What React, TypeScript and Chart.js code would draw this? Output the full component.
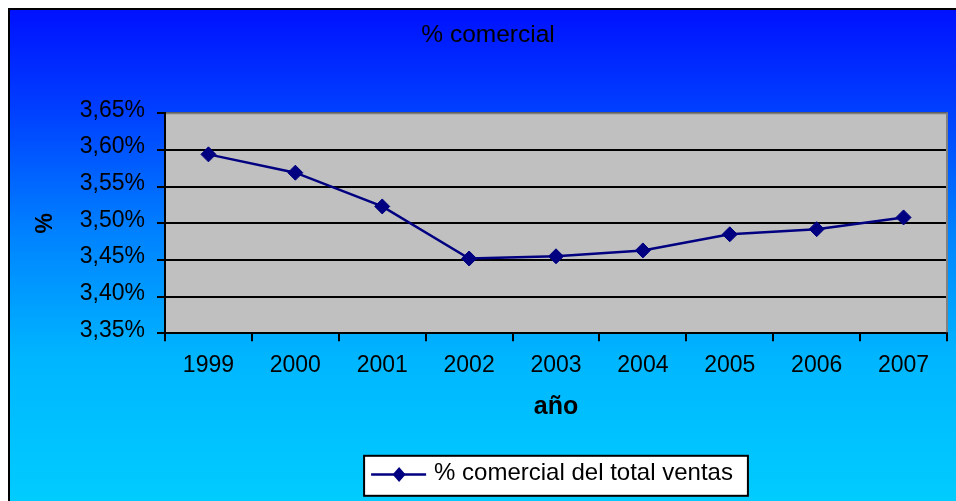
import React, { useEffect, useRef } from 'react';
import { Chart, registerables } from 'chart.js';

Chart.register(...registerables);

// ---- Data ----
const years = ['1999', '2000', '2001', '2002', '2003', '2004', '2005', '2006', '2007'];
const comercialPct = [3.594, 3.569, 3.523, 3.452, 3.455, 3.463, 3.485, 3.492, 3.508];
const yMin = 3.35;
const yMax = 3.65;
const yStep = 0.05;

const chartTitle = '% comercial';
const xAxisTitle = 'año';
const yAxisTitle = '%';
const seriesLabel = '% comercial del total ventas';

const FONT = '"Liberation Sans", Arial, Helvetica, sans-serif';
const LINE_COLOR = '#000080';
const CANVAS_W = 960;
const CANVAS_H = 500;

const backgroundPlugin = {
  id: 'excelBackground',
  beforeDraw(chart: any) {
    const { ctx, width, height, chartArea } = chart;
    ctx.save();
    const g = ctx.createLinearGradient(0, 0, 0, height);
    g.addColorStop(0, 'rgb(0,16,255)');
    g.addColorStop(0.2, 'rgb(0,62,255)');
    g.addColorStop(0.45, 'rgb(0,130,255)');
    g.addColorStop(0.7, 'rgb(0,182,255)');
    g.addColorStop(1, 'rgb(0,205,255)');
    ctx.fillStyle = g;
    ctx.fillRect(0, 0, width, height);
    // outer frame (top and left edges; the others fall outside the window)
    ctx.fillStyle = '#000';
    ctx.fillRect(0, 0, width, 2);
    ctx.fillRect(0, 0, 2, height);
    // plot area
    ctx.fillStyle = '#C0C0C0';
    ctx.fillRect(chartArea.left, chartArea.top, chartArea.right - chartArea.left, chartArea.bottom - chartArea.top);
    // title
    ctx.fillStyle = '#000';
    ctx.font = `24.5px ${FONT}`;
    ctx.textAlign = 'center';
    ctx.textBaseline = 'alphabetic';
    ctx.fillText(chartTitle, width / 2, 34);
    ctx.restore();
  },
  beforeDatasetsDraw(chart: any) {
    const { ctx, chartArea } = chart;
    ctx.save();
    ctx.strokeStyle = '#808080';
    ctx.lineWidth = 2;
    ctx.beginPath();
    ctx.moveTo(chartArea.left + 1, chartArea.top);
    ctx.lineTo(chartArea.right, chartArea.top);
    ctx.lineTo(chartArea.right, chartArea.bottom - 1);
    ctx.stroke();
    ctx.restore();
  },
};

const legendBoxPlugin = {
  id: 'legendBox',
  afterDraw(chart: any) {
    const { ctx, chartArea } = chart;
    const ds = chart.data.datasets[0];
    ctx.save();
    ctx.font = `24px ${FONT}`;
    const textW = ctx.measureText(ds.label).width;
    const boxW = 7 + 55 + 8 + textW + 15;
    const boxH = 40;
    const cx = (chartArea.left + chartArea.right) / 2;
    const bx = cx - boxW / 2;
    const by = chartArea.bottom + 122.5;
    ctx.fillStyle = '#fff';
    ctx.fillRect(bx, by, boxW, boxH);
    ctx.strokeStyle = '#000';
    ctx.lineWidth = 2;
    ctx.strokeRect(bx, by, boxW, boxH);
    const sy = by + 18.6;
    ctx.strokeStyle = ds.borderColor;
    ctx.lineWidth = 2.5;
    ctx.beginPath();
    ctx.moveTo(bx + 7, sy);
    ctx.lineTo(bx + 62, sy);
    ctx.stroke();
    const mx = bx + 35;
    const r = 7;
    ctx.fillStyle = ds.pointBackgroundColor;
    ctx.beginPath();
    ctx.moveTo(mx - r + 0.5, sy);
    ctx.lineTo(mx, sy - r - 0.5);
    ctx.lineTo(mx + r - 0.5, sy);
    ctx.lineTo(mx, sy + r + 0.5);
    ctx.closePath();
    ctx.fill();
    ctx.fillStyle = '#000';
    ctx.textAlign = 'left';
    ctx.textBaseline = 'middle';
    ctx.fillText(ds.label, bx + 70, by + 18);
    ctx.restore();
  },
};

export default function App() {
  const canvasRef = useRef<HTMLCanvasElement | null>(null);

  useEffect(() => {
    if (!canvasRef.current) return;
    const html = document.documentElement;
    const prevHtmlOverflow = html.style.overflow;
    const prevBodyOverflow = document.body.style.overflow;
    html.style.overflow = 'hidden';
    document.body.style.overflow = 'hidden';
    Chart.defaults.font.family = FONT;
    Chart.defaults.color = '#000';
    const chart = new Chart(canvasRef.current, {
      type: 'line',
      data: {
        labels: years,
        datasets: [
          {
            label: seriesLabel,
            data: comercialPct,
            borderColor: LINE_COLOR,
            backgroundColor: LINE_COLOR,
            borderWidth: 2.5,
            pointStyle: 'rectRot',
            pointRadius: 7.5,
            pointBackgroundColor: LINE_COLOR,
            pointBorderColor: LINE_COLOR,
            pointBorderWidth: 1,
            tension: 0,
            fill: false,
          },
        ],
      },
      options: {
        animation: false,
        responsive: false,
        maintainAspectRatio: false,
        devicePixelRatio: 1,
        events: [],
        layout: { padding: { top: 105.3, right: 21, bottom: 80.7, left: 0 } },
        plugins: {
          legend: { display: false },
          title: { display: false },
          tooltip: { enabled: false },
        },
        scales: {
          x: {
            type: 'category',
            offset: true,
            afterFit(scale: any) {
              scale.height = 94;
            },
            grid: {
              display: true,
              offset: true,
              drawOnChartArea: false,
              drawTicks: true,
              tickLength: 8,
              color: '#000',
              lineWidth: 2,
            },
            border: { display: true, color: '#000', width: 2 },
            ticks: {
              font: { size: 23 },
              color: '#000',
              padding: 11,
              maxRotation: 0,
              autoSkip: false,
            },
            title: {
              display: true,
              text: xAxisTitle,
              font: { size: 25, weight: 'bold' },
              color: '#000',
              padding: { top: 0, bottom: 5 },
            },
          },
          y: {
            type: 'linear',
            min: yMin,
            max: yMax,
            afterFit(scale: any) {
              scale.width = 157;
            },
            grid: {
              display: true,
              drawOnChartArea: true,
              drawTicks: true,
              tickLength: 8,
              color: '#000',
              lineWidth: 2,
            },
            border: { display: true, color: '#000', width: 2 },
            ticks: {
              stepSize: yStep,
              font: { size: 23 },
              color: '#000',
              padding: 12,
              labelOffset: -3,
              callback: (v: any) => Number(v).toFixed(2).replace('.', ',') + '%',
            },
            title: {
              display: true,
              text: yAxisTitle,
              font: { size: 23, weight: 'bold' },
              color: '#000',
              padding: { top: 24, bottom: 0 },
            },
          },
        },
      },
      plugins: [backgroundPlugin, legendBoxPlugin],
    });
    return () => {
      chart.destroy();
      html.style.overflow = prevHtmlOverflow;
      document.body.style.overflow = prevBodyOverflow;
    };
  }, []);

  return (
    <div
      style={{
        position: 'fixed',
        left: 8,
        top: 8,
        width: 948,
        height: 493,
        overflow: 'hidden',
      }}
    >
      <canvas
        ref={canvasRef}
        width={CANVAS_W}
        height={CANVAS_H}
        style={{ display: 'block', width: CANVAS_W, height: CANVAS_H }}
      />
    </div>
  );
}
